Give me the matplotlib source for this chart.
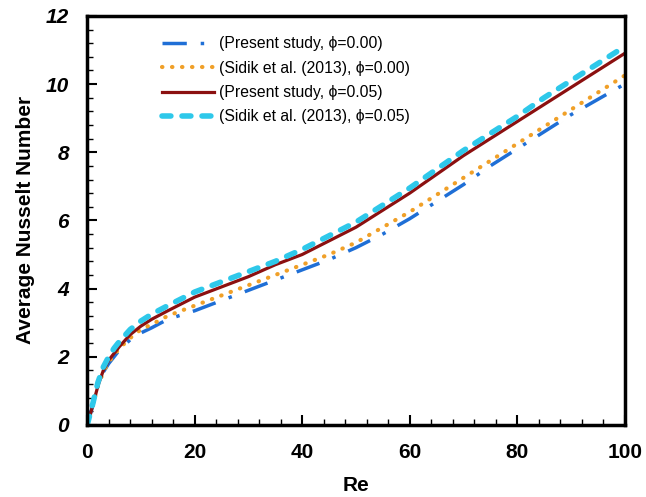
import matplotlib.pyplot as plt
from matplotlib.ticker import MultipleLocator

plt.rcParams['font.family'] = ['Liberation Sans', 'DejaVu Sans']

re = [0, 1, 2, 3, 4, 5, 6, 8, 10, 12, 15, 20, 25, 30, 35, 40, 45, 50,
      55, 60, 65, 70, 75, 80, 85, 90, 95, 100]
present_000 = [0, 0.55, 1.15, 1.55, 1.8, 2.0, 2.2, 2.5, 2.7, 2.85, 3.1, 3.35,
               3.65, 3.95, 4.25, 4.55, 4.85, 5.2, 5.6, 6.05, 6.55, 7.05,
               7.6, 8.1, 8.6, 9.1, 9.55, 10.0]
sidik_000 = [0, 0.55, 1.15, 1.55, 1.85, 2.05, 2.25, 2.55, 2.8, 2.95, 3.2, 3.5,
             3.8, 4.1, 4.4, 4.7, 5.0, 5.35, 5.8, 6.25, 6.75, 7.25,
             7.75, 8.25, 8.75, 9.25, 9.75, 10.25]
present_005 = [0, 0.55, 1.15, 1.6, 1.9, 2.1, 2.3, 2.65, 2.9, 3.1, 3.35, 3.75,
               4.05, 4.35, 4.7, 5.0, 5.4, 5.8, 6.3, 6.8, 7.35, 7.9,
               8.4, 8.9, 9.4, 9.9, 10.4, 10.9]
sidik_005 = [0, 0.6, 1.25, 1.7, 2.0, 2.25, 2.45, 2.8, 3.05, 3.25, 3.5, 3.9,
             4.2, 4.5, 4.8, 5.15, 5.55, 5.95, 6.45, 6.95, 7.5, 8.05,
             8.55, 9.05, 9.6, 10.1, 10.6, 11.1]

labels = ["(Present study, \u03d5=0.00)", "(Sidik et al. (2013), \u03d5=0.00)",
          "(Present study, \u03d5=0.05)", "(Sidik et al. (2013), \u03d5=0.05)"]

fig = plt.figure(figsize=(6.46, 4.97), dpi=100)
ax = fig.add_axes([0.135, 0.145, 0.832, 0.823])

ax.plot(re, present_000, color='#1f6fd6', lw=2.5, dashes=(7, 4, 1, 4),
        label=labels[0])
ax.plot(re, sidik_000, color='#f0a028', lw=3, linestyle=(0, (0.1, 2.3)),
        dash_capstyle='round', label=labels[1])
ax.plot(re, present_005, color='#8b1010', lw=2.3, label=labels[2])
ax.plot(re, sidik_005, color='#2ec8ea', lw=4, dashes=(1.6, 2.0),
        dash_capstyle='round', label=labels[3])

ax.set_xlim(0, 100)
ax.set_ylim(0, 12)
ax.xaxis.set_major_locator(MultipleLocator(20))
ax.xaxis.set_minor_locator(MultipleLocator(4))
ax.yaxis.set_major_locator(MultipleLocator(2))
ax.yaxis.set_minor_locator(MultipleLocator(0.4))
ax.tick_params(which='major', direction='in', length=7, width=1.5)
ax.tick_params(which='minor', direction='in', length=4, width=1)
ax.tick_params(axis='x', pad=13)
ax.tick_params(axis='y', pad=13)
for spine in ax.spines.values():
    spine.set_linewidth(2.5)

for t in ax.get_xticklabels():
    t.set_fontsize(15)
    t.set_fontweight('bold')
for t in ax.get_yticklabels():
    t.set_fontsize(15)
    t.set_fontweight('bold')
    t.set_fontstyle('italic')

ax.set_xlabel("Re", fontsize=15, fontweight='bold', labelpad=10)
ax.set_ylabel("Average Nusselt Number", fontsize=15, fontweight='bold', labelpad=8)

ax.legend(loc='upper left', bbox_to_anchor=(0.113, 0.985), frameon=False,
          fontsize=11.3, handlelength=3.3, handletextpad=0.3, labelspacing=0.6)

fig.savefig("out.png", dpi=100)
